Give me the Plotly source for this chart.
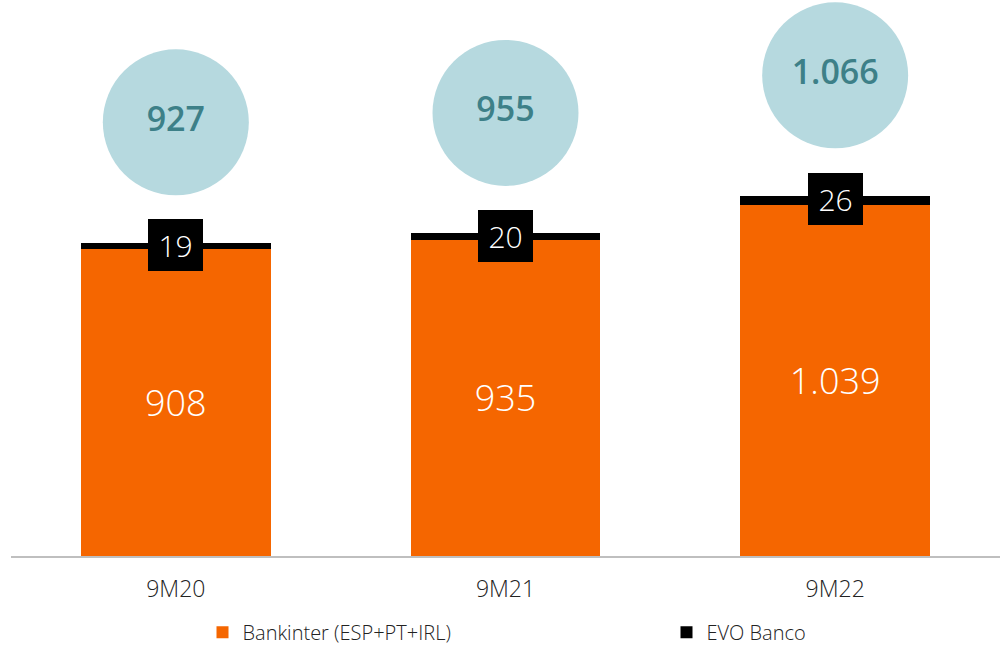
import plotly.graph_objects as go

categories = ["9M20", "9M21", "9M22"]
bankinter = [908, 935, 1039]
evo = [19, 20, 26]
totals = [927, 955, 1066]

ORANGE = "#F56600"
CIRCLE = "#B6D9DF"
TEAL = "#3D8088"
FONT = "Open Sans"

def fmt(v):
    return f"{v:,}".replace(",", ".")

fig = go.Figure()
fig.add_trace(go.Bar(
    x=categories, y=bankinter, name="Bankinter (ESP+PT+IRL)",
    marker=dict(color=ORANGE, line=dict(width=0)), width=0.575,
    text=[fmt(v) for v in bankinter], textposition="inside",
    insidetextanchor="middle",
    textfont=dict(color="white", size=36, family=FONT, weight=300),
    hoverinfo="skip", legend="legend",
))
fig.add_trace(go.Bar(
    x=categories, y=evo, name="EVO Banco",
    marker=dict(color="black", line=dict(width=0)), width=0.575,
    hoverinfo="skip", legend="legend2",
))
# total circles
circle_offset = 356
fig.add_trace(go.Scatter(
    x=categories, y=[t + circle_offset for t in totals],
    mode="markers+text", showlegend=False, cliponaxis=False,
    marker=dict(size=146, color=CIRCLE, line=dict(width=0)),
    text=[fmt(t) for t in totals], textposition="middle center",
    textfont=dict(color=TEAL, size=34, family=FONT, weight=600),
    hoverinfo="skip",
))

for c, b, e in zip(categories, bankinter, evo):
    fig.add_annotation(
        x=c, y=b + e / 2, text=fmt(e), showarrow=False,
        font=dict(color="white", size=30, family=FONT, weight=300),
        bgcolor="black", width=53, height=50, borderpad=1, borderwidth=0,
        yshift=1,
    )

legend_common = dict(
    orientation="h", xref="container", yref="container",
    y=0.026, xanchor="left", yanchor="middle",
    font=dict(size=20, color="#222222", family=FONT, weight=300),
    itemwidth=30,
)

fig.update_layout(
    barmode="stack",
    width=1000, height=649,
    margin=dict(l=11, r=0, t=0, b=93, autoexpand=False),
    plot_bgcolor="white", paper_bgcolor="white",
    font=dict(family=FONT, color="#222222"),
    xaxis=dict(
        showline=True, linecolor="#BFBFBF", linewidth=2,
        showgrid=False, zeroline=False, automargin=False,
        ticks="outside", ticklen=11, tickcolor="rgba(0,0,0,0)",
        tickfont=dict(size=23, color="#222222", family=FONT, weight=300),
        range=[-0.5, 2.5],
    ),
    yaxis=dict(visible=False, range=[0, 1645], automargin=False),
    legend=dict(x=0.2025, **legend_common),
    legend2=dict(x=0.6665, **legend_common),
    showlegend=True,
)

fig.write_html(
    "out.html",
    config={"displayModeBar": False},
    post_script="document.body.style.margin='0';document.body.style.overflow='hidden';",
)
